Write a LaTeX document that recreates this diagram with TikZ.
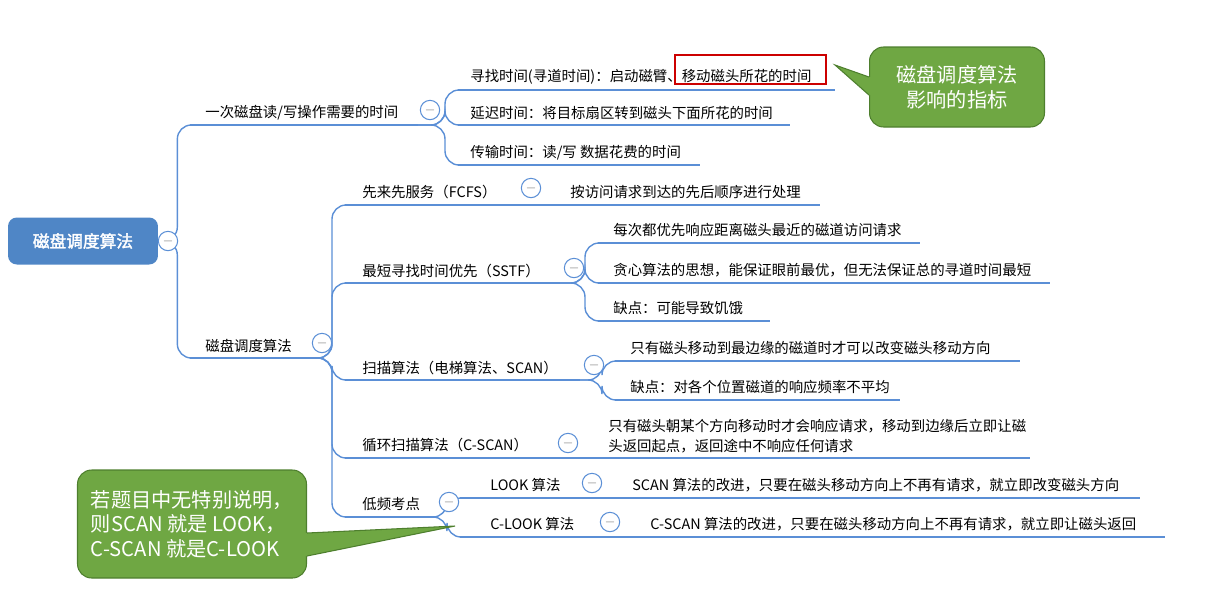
\documentclass[tikz,border=0pt]{standalone}
\usepackage{fontspec}
\setmainfont{Noto Sans CJK SC}[AutoFakeBold=2]
\usetikzlibrary{calc}
\definecolor{mapblue}{HTML}{5B8FD6}
\definecolor{rootblue}{HTML}{4F86C6}
\definecolor{notegreen}{HTML}{6FA743}
\definecolor{noteedge}{HTML}{4E7F2E}
\begin{document}
\begin{tikzpicture}[x=0.02cm, y=-0.02cm]
    \tikzstyle{topic} = [anchor=south west, inner sep=0pt, font=\fontsize{8.2}{11}\selectfont]
    \tikzstyle{uline} = [draw=mapblue, line width=1.6pt]
    \tikzstyle{conn} = [draw=mapblue, line width=0.8pt, rounded corners=8]
    \tikzstyle{fold} = [circle, draw=mapblue, fill=white, line width=0.6pt, minimum size=11pt, inner sep=0pt, text=gray, font=\scriptsize\bfseries]
    \tikzstyle{note} = [rectangle, rounded corners=8pt, draw=noteedge, fill=notegreen, text=white, line width=0.6pt, font=\fontsize{11.5}{14}\selectfont]

    \useasboundingbox (0,0) rectangle (1224,603);

    % root
    \node [rectangle, rounded corners=5pt, fill=rootblue, text=white, minimum width=3cm, minimum height=0.94cm, font=\fontsize{9.5}{11}\selectfont\bfseries] (root) at (83,241) {磁盘调度算法};

    % branch lines (start / end)
    \foreach \n/\a/\b/\y in {b1/190/418/125, b2/190/310/358,
        c11/458/835/90, c12/458/790/125, c13/458/700/165,
        s1/345/515/205, s1a/555/820/205,
        s2/345/560/283, s2a/598/920/243, s2b/598/1050/283, s2c/598/770/321,
        s3/345/580/380, s3a/615/1020/361, s3b/615/900/400,
        s4/345/555/458, s4a/590/1030/458,
        s5/345/435/517, l1/460/575/498, l1a/614/1140/498, l2/460/595/537, l2a/632/1165/537} {
        \coordinate (\n s) at (\a,\y);
        \coordinate (\n e) at (\b,\y);
        \draw [uline] (\n s) -- (\n e);
    }

    % texts
    \node [topic] (b1) at (205,120) {一次磁盘读/写操作需要的时间};
    \node [topic] (c11) at (470,85) {寻找时间(寻道时间)：启动磁臂、移动磁头所花的时间};
    \node [topic] (c12) at (470,120) {延迟时间：将目标扇区转到磁头下面所花的时间};
    \node [topic] (c13) at (470,160) {传输时间：读/写 数据花费的时间};
    \node [topic] (b2) at (205,353) {磁盘调度算法};
    \node [topic] (s1) at (362,199) {先来先服务（FCFS）};
    \node [topic] (s1a) at (570,199) {按访问请求到达的先后顺序进行处理};
    \node [topic] (s2) at (362,278) {最短寻找时间优先（SSTF）};
    \node [topic] (s2a) at (613,237) {每次都优先响应距离磁头最近的磁道访问请求};
    \node [topic] (s2b) at (613,277) {贪心算法的思想，能保证眼前最优，但无法保证总的寻道时间最短};
    \node [topic] (s2c) at (613,315) {缺点：可能导致饥饿};
    \node [topic] (s3) at (362,375) {扫描算法（电梯算法、SCAN）};
    \node [topic] (s3a) at (630,355) {只有磁头移动到最边缘的磁道时才可以改变磁头移动方向};
    \node [topic] (s3b) at (630,394) {缺点：对各个位置磁道的响应频率不平均};
    \node [topic] (s4) at (362,452) {循环扫描算法（C-SCAN）};
    \node [topic, align=left] (s4a) at (608,453) {只有磁头朝某个方向移动时才会响应请求，移动到边缘后立即让磁\\头返回起点，返回途中不响应任何请求};
    \node [topic] (s5) at (362,511) {低频考点};
    \node [topic] (l1) at (490,492) {LOOK 算法};
    \node [topic] (l1a) at (632,492) {SCAN 算法的改进，只要在磁头移动方向上不再有请求，就立即改变磁头方向};
    \node [topic] (l2) at (490,531) {C-LOOK 算法};
    \node [topic] (l2a) at (650,531) {C-SCAN 算法的改进，只要在磁头移动方向上不再有请求，就立即让磁头返回};

    % connectors
    \draw [conn] (root.east) -- ++(19,0) |- (b1s);
    \draw [conn] (root.east) -- ++(19,0) |- (b2s);
    \foreach \c in {c11, c12, c13} \draw [conn] (b1e) -- ++(27,0) |- (\c s);
    \foreach \c in {s1, s2, s3, s4, s5} \draw [conn] (b2e) -- ++(22,0) |- (\c s);
    \draw [conn] (s1e) -- (s1as);
    \foreach \c in {s2a, s2b, s2c} \draw [conn] (s2e) -- ++(25,0) |- (\c s);
    \foreach \c in {s3a, s3b} \draw [conn] (s3e) -- ++(22,0) |- (\c s);
    \draw [conn] (s4e) -- (s4as);
    \foreach \c in {l1, l2} \draw [conn] (s5e) -- ++(12,0) |- (\c s);
    \draw [conn] (l1e) -- (l1as);
    \draw [conn] (l2e) -- (l2as);

    % fold markers
    \foreach \n/\x/\y in {f0/168/241, f1/430/110, f2/322/343, f3/531/188, f4/574/268,
        f5/594/365, f6/568/443, f7/449/502, f8/592/483, f9/610/522}
        \node [fold] (\n) at (\x,\y) {$-$};

    % highlight
    \draw [red!80!black, line width=0.8pt] (675,55) rectangle (826,84);

    % notes
    \node [note, minimum width=3.5cm, minimum height=1.6cm, align=center] (note1) at (957,87) {磁盘调度算法\\影响的指标};
    \coordinate (tip1) at (835,65);
    \fill [notegreen] ($(note1.west)+(0,-10)$) -- (tip1) -- ($(note1.west)+(0,8)$) -- ++(6,0) -- ++(0,-18) -- cycle;
    \draw [noteedge, line width=0.6pt] ($(note1.west)+(0,-10)$) -- (tip1) -- ($(note1.west)+(0,8)$);

    \node [note, minimum width=4.58cm, minimum height=2.16cm, align=left] (note2) at (192,524) {若题目中无特别说明，\\则SCAN 就是 LOOK，\\ C-SCAN 就是C-LOOK};
    \coordinate (tip2) at (455,526);
    \fill [notegreen] ($(note2.east)+(0,9)$) -- (tip2) -- ($(note2.east)+(0,32)$) -- ++(-6,0) -- ++(0,-23) -- cycle;
    \draw [noteedge, line width=0.6pt] ($(note2.east)+(0,9)$) -- (tip2) -- ($(note2.east)+(0,32)$);
\end{tikzpicture}
\end{document}
